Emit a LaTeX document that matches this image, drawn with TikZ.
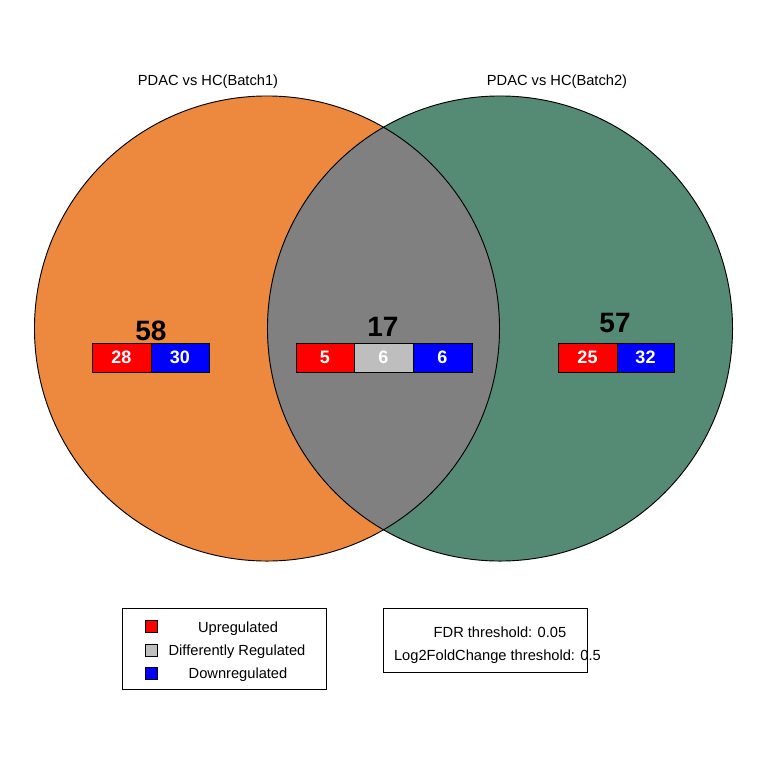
\documentclass[tikz,border=0pt]{standalone}
\usepackage{fontspec}
\setmainfont{Liberation Sans}
\begin{document}
\begin{tikzpicture}[x=0.75pt,y=-0.75pt,
  lbl/.style={font=\fontsize{11}{13}\selectfont, inner sep=0pt, text height=8pt, text depth=2.3pt},
  big/.style={font=\fontsize{21}{24}\selectfont\bfseries, inner sep=0pt},
  cell/.style={draw=black, line width=0.6pt, minimum height=21.75pt, inner sep=0pt, font=\fontsize{13.5}{15}\selectfont\bfseries, text=white},
  sq/.style={draw=black, line width=0.6pt, minimum size=9pt, inner sep=0pt},
  frame/.style={draw=black, line width=0.6pt}]
\definecolor{vorange}{RGB}{237,137,62}
\definecolor{vgreen}{RGB}{85,138,117}
\definecolor{vgray}{RGB}{128,128,128}
\definecolor{cgray}{RGB}{190,190,190}
\useasboundingbox (0,0) rectangle (768,768);
\fill[white] (0,0) rectangle (768,768);
% circles
\coordinate (cl) at (267,328.5);
\coordinate (cr) at (500,328.5);
\fill[vorange] (cl) circle[radius=174.4pt];
\fill[vgreen] (cr) circle[radius=174.4pt];
\begin{scope}
  \clip (cl) circle[radius=174.4pt];
  \fill[vgray] (cr) circle[radius=174.4pt];
\end{scope}
\draw[line width=0.7pt] (cl) circle[radius=174.4pt];
\draw[line width=0.7pt] (cr) circle[radius=174.4pt];
% titles
\node[lbl] (t1) at (208,82) {PDAC vs HC(Batch1)};
\node[lbl] (t2) at (557,82) {PDAC vs HC(Batch2)};
% left
\node[big] (n58) at (151,331) {58};
\node[cell, fill=red, minimum width=44.25pt] (l1) at (121.5,357.5) {28};
\node[cell, fill=blue, minimum width=43.5pt] (l2) at (180,357.5) {30};
% center
\node[big] (n17) at (383,327) {17};
\node[cell, fill=red, minimum width=43.5pt] (c1) at (325,357.5) {5};
\node[cell, fill=cgray, minimum width=44.25pt] (c2) at (383.5,357.5) {6};
\node[cell, fill=blue, minimum width=44.25pt] (c3) at (442.5,357.5) {6};
% right
\node[big] (n57) at (615,323) {57};
\node[cell, fill=red, minimum width=44.25pt] (r1) at (587.5,357.5) {25};
\node[cell, fill=blue, minimum width=42.75pt] (r2) at (645.5,357.5) {32};
% legend 1
\draw[frame] (122,608) rectangle (326,689);
\node[sq, fill=red] (s1) at (151,626) {};
\node[sq, fill=cgray] (s2) at (151,650) {};
\node[sq, fill=blue] (s3) at (151,673) {};
\node[lbl] (g1) at (238,629) {Upregulated};
\node[lbl] (g2) at (237,652) {Differently Regulated};
\node[lbl] (g3) at (238,675) {Downregulated};
% legend 2
\draw[frame] (383,608) rectangle (587,672);
\node[lbl] (f1) at (500,634) {FDR threshold: 0.05};
\node[lbl] (f2) at (497.5,657) {Log2FoldChange threshold: 0.5};
\end{tikzpicture}
\end{document}
